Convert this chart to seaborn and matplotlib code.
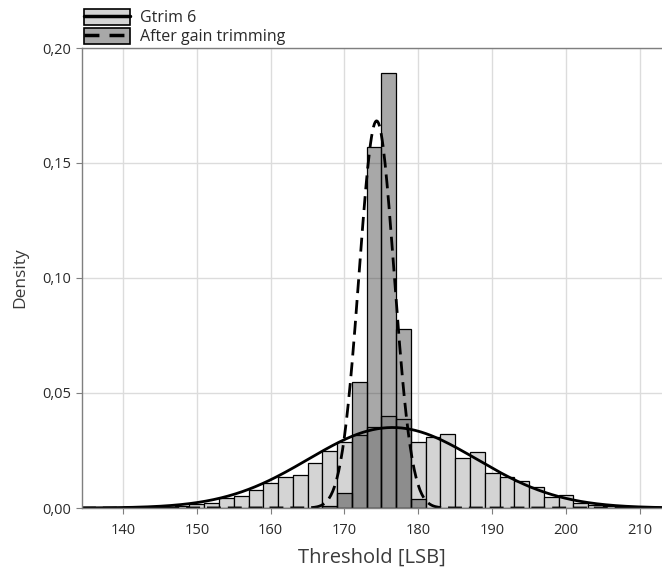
import numpy as np
import pandas as pd
import matplotlib
matplotlib.use("Agg")
import matplotlib.pyplot as plt
import seaborn as sns
from matplotlib.patches import Patch
from matplotlib.lines import Line2D
from matplotlib.legend_handler import HandlerTuple
from matplotlib.ticker import FuncFormatter, MultipleLocator

# Gtrim 6 histogram: left edge of each 2 LSB bin and its density
gtrim_bin_left = [143, 145, 147, 149, 151, 153, 155, 157, 159, 161, 163,
                  165, 167, 169, 171, 173, 175, 177, 179, 181, 183, 185,
                  187, 189, 191, 193, 195, 197, 199, 201, 203, 205, 207]
gtrim_density = [0.0003, 0.0005, 0.0008, 0.0016, 0.0020, 0.0042, 0.0052,
                 0.0078, 0.0110, 0.0136, 0.0145, 0.0194, 0.0250, 0.0288,
                 0.0317, 0.0353, 0.0400, 0.0385, 0.0288, 0.0310, 0.0321,
                 0.0216, 0.0245, 0.0153, 0.0136, 0.0119, 0.0093, 0.0046,
                 0.0056, 0.0020, 0.0012, 0.0008, 0.0005]

# after gain trimming histogram
after_bin_left = [167, 169, 171, 173, 175, 177, 179]
after_density = [0.0010, 0.0064, 0.0549, 0.1570, 0.1890, 0.0777, 0.0038]

BIN_WIDTH = 2

# normal fits (mean, stdev)
gtrim_fit = (176.5, 11.4)
after_fit = (174.35, 2.37)

X_RANGE = (134.45, 213.0)

sns.set_style("whitegrid")
plt.rcParams['font.family'] = ['Open Sans', 'DejaVu Sans']


def normal_pdf(x, mu, sd):
    return np.exp(-0.5 * ((x - mu) / sd) ** 2) / (sd * np.sqrt(2 * np.pi))


def draw_hist(ax, bin_left, density, color):
    df = pd.DataFrame({"left": bin_left, "density": density})
    df["center"] = df["left"] + BIN_WIDTH / 2
    edges = list(bin_left) + [bin_left[-1] + BIN_WIDTH]
    n0 = len(ax.patches)
    sns.histplot(data=df, x="center", weights="density", bins=edges,
                 stat="count", ax=ax, color="gray", edgecolor="black",
                 linewidth=0.9, alpha=1)
    for p in ax.patches[n0:]:
        p.set_facecolor(color)
        p.set_edgecolor("black")


fig = plt.figure(figsize=(6.62, 5.75), dpi=100)
ax = fig.add_axes([82 / 662, 67 / 575, 1 - 82 / 662, (508 - 48) / 575])

light = "#d4d4d4"
dark = (0.06, 0.06, 0.06, 0.36)

draw_hist(ax, gtrim_bin_left, gtrim_density, light)

xs = np.linspace(X_RANGE[0], X_RANGE[1], 600)
sns.lineplot(x=xs, y=normal_pdf(xs, *gtrim_fit), ax=ax, color="black",
             linewidth=2, estimator=None)

draw_hist(ax, after_bin_left, after_density, dark)
sns.lineplot(x=xs, y=normal_pdf(xs, *after_fit), ax=ax, color="black",
             linewidth=2, linestyle=(0, (5, 2.5)), estimator=None)

ax.set_xlim(*X_RANGE)
ax.set_ylim(0, 0.20)
ax.xaxis.set_major_locator(MultipleLocator(10))
ax.yaxis.set_major_locator(MultipleLocator(0.05))
ax.yaxis.set_major_formatter(FuncFormatter(lambda v, _: f"{v:.2f}".replace(".", ",")))
ax.grid(True, color="#dcdcdc", linewidth=1)
ax.set_axisbelow(True)
for side in ["left", "top", "bottom"]:
    ax.spines[side].set_color("#7f7f7f")
    ax.spines[side].set_linewidth(1)
ax.spines["right"].set_visible(False)
ax.tick_params(axis="both", which="major", length=4, width=0.8,
               color="#7f7f7f", labelsize=10.5, labelcolor="#2a2a2a",
               left=True, bottom=True)
ax.tick_params(axis="x", pad=7)
ax.tick_params(axis="y", pad=4)

ax.set_xlabel("Threshold [LSB]", fontsize=14.5, color="#3a3a3a", labelpad=7)
ax.set_ylabel("Density", fontsize=12.5, color="#3a3a3a", labelpad=10)

handles = [
    (Patch(facecolor=light, edgecolor="black", linewidth=1.2),
     Line2D([], [], color="black", linewidth=2.5)),
    (Patch(facecolor="#a8a8a8", edgecolor="black", linewidth=1.2),
     Line2D([], [], color="black", linewidth=2.5, linestyle=(0, (4.3, 2.9)))),
]
fig.legend(handles, ["Gtrim 6", "After gain trimming"],
           handler_map={tuple: HandlerTuple(ndivide=1)},
           loc="upper left", bbox_to_anchor=(84 / 662, 1 - 9 / 575),
           frameon=False, fontsize=11.5, handlelength=2.9, handleheight=1.15,
           labelspacing=0.1, handletextpad=0.6, borderpad=0,
           borderaxespad=0, labelcolor="#2a2a2a")

fig.savefig("out.png", dpi=100)
